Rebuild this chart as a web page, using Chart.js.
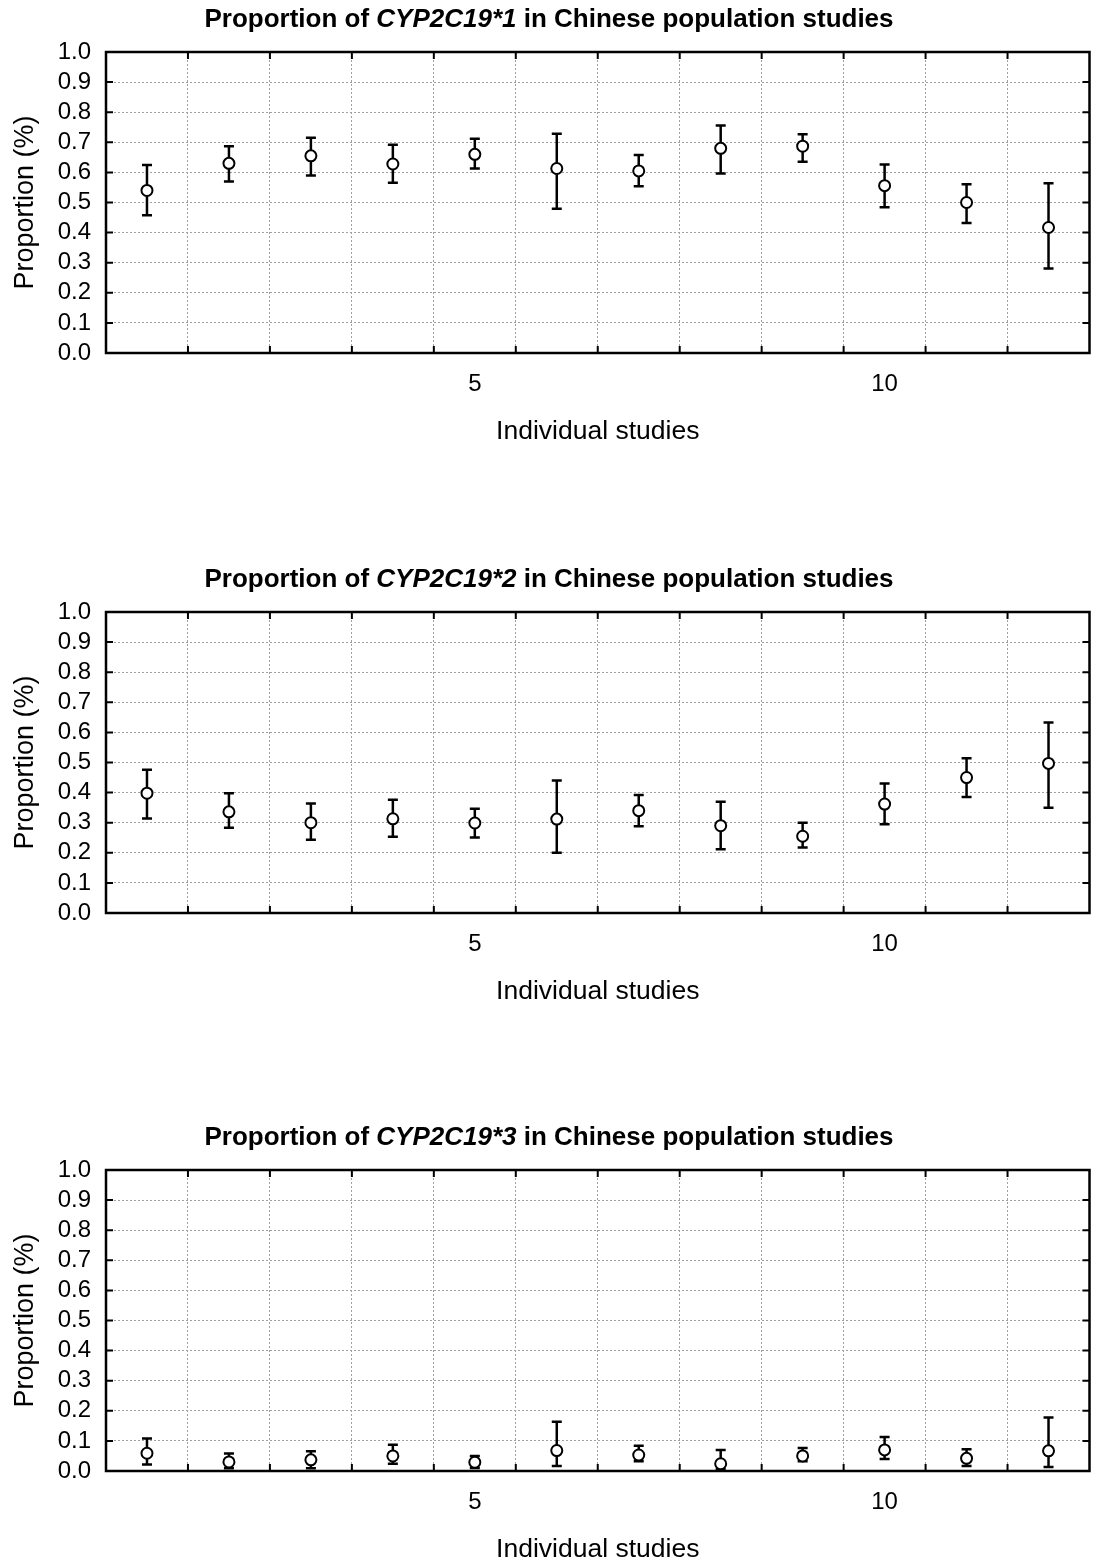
<!DOCTYPE html>
<html>
<head>
<meta charset="utf-8">
<script src="https://cdn.jsdelivr.net/npm/chart.js@4.4.1/dist/chart.umd.min.js"></script>
<style>
  html, body { margin: 0; padding: 0; background: #fff; overflow: hidden; }
  canvas { position: absolute; left: 0; }
</style>
</head>
<body>
<canvas id="c1" width="1097" height="460" style="top:0px"></canvas>
<canvas id="c2" width="1097" height="460" style="top:560px"></canvas>
<canvas id="c3" width="1097" height="460" style="top:1118px"></canvas>
<script>
// studies on the x axis, only 5 and 10 are labelled
const studies = [1, 2, 3, 4, 5, 6, 7, 8, 9, 10, 11, 12];
const xTickLabels = [5, 10];
const yTickValues = [0.0, 0.1, 0.2, 0.3, 0.4, 0.5, 0.6, 0.7, 0.8, 0.9, 1.0];

// CYP2C19*1
const star1Mean  = [0.540, 0.630, 0.655, 0.628, 0.660, 0.613, 0.605, 0.680, 0.687, 0.556, 0.500, 0.417];
const star1Lower = [0.458, 0.570, 0.590, 0.566, 0.613, 0.479, 0.554, 0.596, 0.635, 0.484, 0.432, 0.281];
const star1Upper = [0.625, 0.687, 0.715, 0.692, 0.712, 0.728, 0.658, 0.756, 0.727, 0.626, 0.561, 0.564];

// CYP2C19*2
const star2Mean  = [0.398, 0.336, 0.300, 0.313, 0.299, 0.312, 0.340, 0.290, 0.255, 0.362, 0.450, 0.497];
const star2Lower = [0.314, 0.283, 0.243, 0.253, 0.251, 0.200, 0.288, 0.212, 0.218, 0.295, 0.385, 0.350];
const star2Upper = [0.476, 0.398, 0.364, 0.376, 0.346, 0.440, 0.392, 0.370, 0.300, 0.430, 0.514, 0.633];

// CYP2C19*3
const star3Mean  = [0.059, 0.030, 0.037, 0.050, 0.029, 0.068, 0.053, 0.024, 0.050, 0.070, 0.042, 0.067];
const star3Lower = [0.022, 0.009, 0.009, 0.024, 0.010, 0.017, 0.032, 0.006, 0.032, 0.040, 0.017, 0.013];
const star3Upper = [0.108, 0.058, 0.066, 0.087, 0.050, 0.164, 0.084, 0.070, 0.076, 0.113, 0.072, 0.178];

const gridBounds = studies.slice(1).map(s => s - 0.5);
const FONT = "'Liberation Sans', Arial, Helvetica, sans-serif";
const GRID = '#a0a0a0';
const NONE = 'rgba(0,0,0,0)';

Chart.defaults.font.family = FONT;
Chart.defaults.color = '#000';

const errorBars = {
  id: 'errorBars',
  beforeDatasetsDraw(chart) {
    const { ctx, chartArea: a, scales: { x, y } } = chart;
    // frame + inward tick marks
    ctx.save();
    ctx.strokeStyle = '#000';
    ctx.lineWidth = 2.5;
    ctx.strokeRect(a.left, a.top, a.right - a.left, a.bottom - a.top);
    ctx.lineWidth = 2;
    ctx.beginPath();
    yTickValues.slice(1, -1).forEach(v => {
      const py = y.getPixelForValue(v);
      ctx.moveTo(a.left, py); ctx.lineTo(a.left + 7, py);
      ctx.moveTo(a.right, py); ctx.lineTo(a.right - 7, py);
    });
    gridBounds.forEach(v => {
      const px = x.getPixelForValue(v);
      ctx.moveTo(px, a.bottom); ctx.lineTo(px, a.bottom - 7);
      ctx.moveTo(px, a.top); ctx.lineTo(px, a.top + 7);
    });
    ctx.stroke();

    const ds = chart.data.datasets[0];
    ctx.lineWidth = 2.5;
    ctx.beginPath();
    ds.data.forEach((p, i) => {
      const px = x.getPixelForValue(p.x);
      const lo = y.getPixelForValue(ds.errLow[i]);
      const hi = y.getPixelForValue(ds.errHigh[i]);
      ctx.moveTo(px, lo); ctx.lineTo(px, hi);
      ctx.moveTo(px - 5, lo); ctx.lineTo(px + 5, lo);
      ctx.moveTo(px - 5, hi); ctx.lineTo(px + 5, hi);
    });
    ctx.stroke();
    ctx.restore();
  }
};

// title with the allele name in italics
const mixedTitle = {
  id: 'mixedTitle',
  afterDraw(chart, args, opts) {
    const ctx = chart.ctx;
    ctx.save();
    ctx.fillStyle = '#000';
    ctx.textBaseline = 'middle';
    const fonts = opts.parts.map(p => (p[1] ? 'italic ' : '') + 'bold 26px ' + FONT);
    let total = 0;
    const widths = opts.parts.map((p, i) => { ctx.font = fonts[i]; const w = ctx.measureText(p[0]).width; total += w; return w; });
    let xx = opts.cx - total / 2;
    opts.parts.forEach((p, i) => {
      ctx.font = fonts[i];
      ctx.fillText(p[0], xx, opts.cy);
      xx += widths[i];
    });
    ctx.restore();
  }
};

function makePanel(id, allele, means, lows, highs) {
  new Chart(document.getElementById(id), {
    type: 'scatter',
    data: {
      datasets: [{
        data: studies.map((s, i) => ({ x: s, y: means[i] })),
        errLow: lows,
        errHigh: highs,
        pointRadius: 5.5,
        pointHoverRadius: 5.5,
        pointBorderWidth: 2,
        pointBackgroundColor: '#fff',
        pointBorderColor: '#000',
        showLine: false
      }]
    },
    options: {
      responsive: false,
      animation: false,
      layout: { padding: { top: 52, right: 3, left: 0, bottom: 0 } },
      plugins: {
        legend: { display: false },
        tooltip: { enabled: false },
        mixedTitle: {
          cx: 549, cy: 20,
          parts: [['Proportion of ', false], [allele, true], [' in Chinese population studies', false]]
        }
      },
      scales: {
        x: {
          type: 'linear',
          min: 0.5,
          max: 12.5,
          afterBuildTicks: s => {
            s.ticks = gridBounds.concat(xTickLabels).sort((a, b) => a - b).map(v => ({ value: v }));
          },
          afterFit: s => { s.height = 107; },
          ticks: {
            autoSkip: false,
            maxRotation: 0,
            padding: 17,
            font: { size: 24 },
            callback: v => xTickLabels.includes(v) ? String(v) : ''
          },
          grid: {
            drawTicks: false,
            lineWidth: 1,
            color: c => Number.isInteger(c.tick.value) ? NONE : GRID
          },
          border: { display: false, dash: [2, 2] },
          title: {
            display: true,
            text: 'Individual studies',
            font: { size: 26.5 },
            padding: { top: 0, bottom: 12 }
          }
        },
        y: {
          min: 0,
          max: 1,
          afterBuildTicks: s => { s.ticks = yTickValues.map(v => ({ value: v })); },
          afterFit: s => { s.width = 106; },
          ticks: {
            autoSkip: false,
            padding: 15,
            font: { size: 24 },
            callback: v => v.toFixed(1)
          },
          grid: {
            drawTicks: false,
            lineWidth: 1,
            color: c => (c.tick.value <= 0 || c.tick.value >= 1) ? NONE : GRID
          },
          border: { display: false, dash: [2, 2] },
          title: {
            display: true,
            text: 'Proportion (%)',
            font: { size: 27 },
            padding: { top: 9, bottom: 0 }
          }
        }
      }
    },
    plugins: [errorBars, mixedTitle]
  });
}

makePanel('c1', 'CYP2C19*1', star1Mean, star1Lower, star1Upper);
makePanel('c2', 'CYP2C19*2', star2Mean, star2Lower, star2Upper);
makePanel('c3', 'CYP2C19*3', star3Mean, star3Lower, star3Upper);
</script>
</body>
</html>
